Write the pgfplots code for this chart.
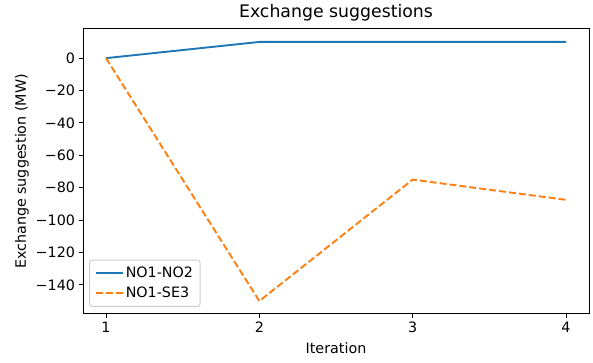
\documentclass[border=0pt]{standalone}
\usepackage{pgfplots}
\pgfplotsset{compat=1.18}
\usepackage{fontspec}
\setmainfont{DejaVu Sans}
\definecolor{tabblue}{HTML}{1F77B4}
\definecolor{taborange}{HTML}{FF7F0E}
\begin{document}
\begin{tikzpicture}[x=1pt,y=1pt]
\path[use as bounding box] (0,0) rectangle (593,363);
\begin{axis}[
  at={(83pt,49pt)}, anchor=south west,
  scale only axis, width=506pt, height=285pt,
  xmin=0.85, xmax=4.15, ymin=-158, ymax=18,
  xtick={1,2,3,4}, ytick={-140,-120,-100,-80,-60,-40,-20,0},
  yticklabels={−140,−120,−100,−80,−60,−40,−20,0},
  tick align=outside, tick pos=left,
  major tick length=4.5pt,
  every tick/.style={black, line width=1pt},
  axis line style={line width=1pt},
  font=\fontsize{14.3}{16}\selectfont,
  /pgf/number format/assume math mode=true,
  title={Exchange suggestions},
  title style={font=\fontsize{17.3}{19}\selectfont, yshift=-2pt},
  xlabel={Iteration}, ylabel={Exchange suggestion (MW)},
  xlabel style={yshift=-3pt},
  ylabel style={yshift=0pt},
  legend cell align=left,
  legend style={draw=black!20, rounded corners=2.5pt, line width=1pt, at={(0.012,0.025)}, anchor=south west, font=\fontsize{14.3}{16}\selectfont, row sep=4pt, inner xsep=5pt, inner ysep=5pt},
  legend image post style={xscale=1.6},
]
\addplot[tabblue, line width=1.9pt] coordinates {(1,0) (2,10) (3,10) (4,10)};
\addlegendentry{NO1-NO2}
\addplot[taborange, line width=1.9pt, dash pattern=on 7pt off 3pt] coordinates {(1,0) (2,-150) (3,-75) (4,-87.5)};
\addlegendentry{NO1-SE3}
\end{axis}
\end{tikzpicture}
\end{document}
